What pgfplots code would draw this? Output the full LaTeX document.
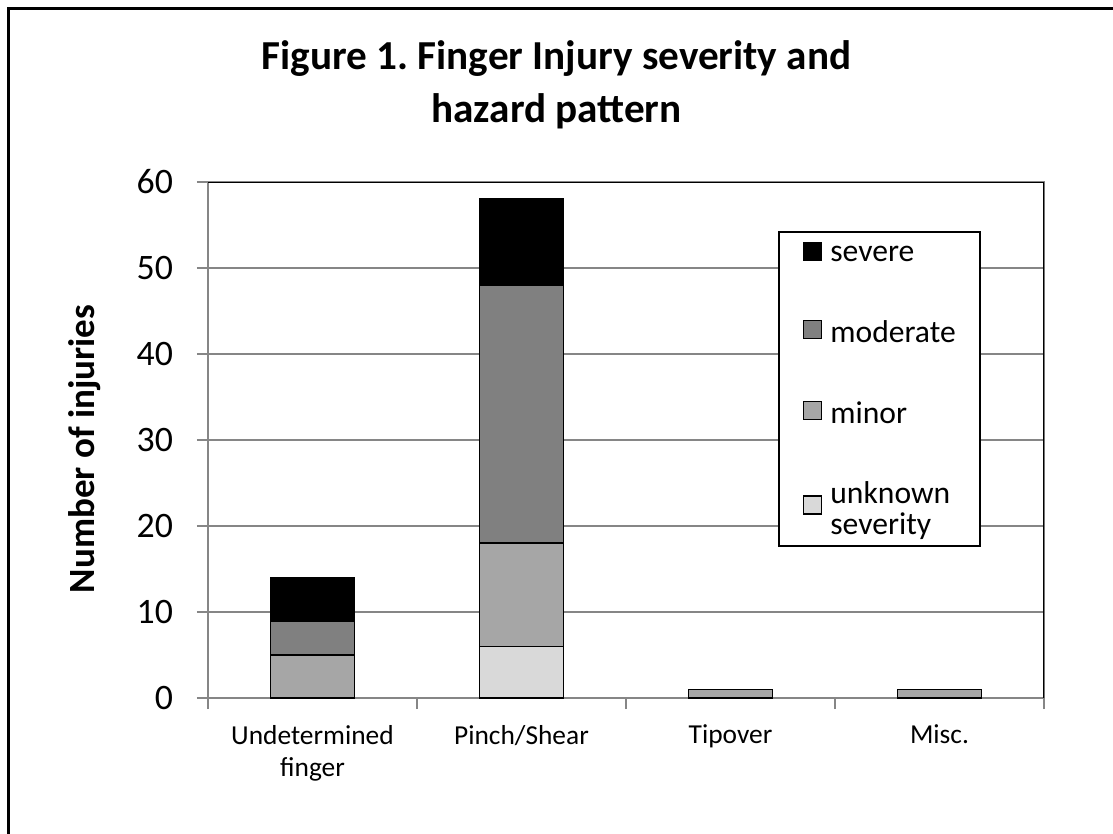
\documentclass[border=0pt]{standalone}
\usepackage{fontspec}
\setmainfont{Carlito}
\usepackage{pgfplots}
\pgfplotsset{compat=1.18}
\frenchspacing

\definecolor{sev}{HTML}{000000}
\definecolor{mod}{HTML}{808080}
\definecolor{mnr}{HTML}{A6A6A6}
\definecolor{unk}{HTML}{D9D9D9}
\definecolor{axgray}{HTML}{868686}

\begin{document}
\begin{tikzpicture}
% page = 1113 x 834 px, 1 px = 0.5pt
\useasboundingbox (0pt,0pt) rectangle (556.5pt,-417pt);
\fill[white] (0pt,0pt) rectangle (556.5pt,-417pt);
\draw[black, line width=1.5pt] (4pt,-420pt) -- (4pt,-4.5pt) -- (560pt,-4.5pt);

\begin{axis}[
    at={(104pt,-349pt)}, anchor=south west,
    scale only axis,
    width=418pt, height=258pt,
    ybar stacked,
    bar width=42pt,
    xmin=-0.5, xmax=3.5,
    ymin=0, ymax=60,
    ytick={0,10,...,60},
    xtick={-0.5,0.5,1.5,2.5,3.5},
    xticklabels={},
    extra x ticks={0,1,2,3},
    extra x tick labels={Undetermined\\finger, Pinch/Shear, Tipover, Misc.},
    extra x tick style={major tick length=0pt,
        xticklabel style={align=center, anchor=north, yshift=-10pt,
            font=\fontsize{13.7}{16}\selectfont}},
    tick align=outside,
    tick pos=left,
    major tick length=5.5pt,
    tick style={axgray, line width=1pt},
    axis line style={axgray, line width=1.2pt},
    ymajorgrids,
    grid style={axgray, line width=1pt},
    /pgf/number format/assume math mode=true,
    yticklabel style={font=\fontsize{17.9}{20}\selectfont, xshift=-8.5pt},
    reverse legend,
    legend style={at={(0.682,0.905)}, anchor=north west,
        draw=black, line width=0.8pt,
        font=\fontsize{15.8}{19}\selectfont,
        inner xsep=12pt, inner ysep=5pt,
        row sep=27.5pt, column sep=4pt,
        nodes={inner sep=0pt},
        cells={anchor=west}},
    legend cell align=left,
    legend image code/.code={\draw[#1, line width=0.7pt] (0pt,-2.5pt) rectangle (9pt,6.5pt);},
]
\addplot[fill=unk, draw=black, line width=0.9pt] coordinates {(0,0) (1,6) (2,0) (3,0)};
\addlegendentry[text depth=16pt]{\vtop{\baselineskip=15.5pt\hbox{unknown}\hbox{severity}}}
\addplot[fill=mnr, draw=black, line width=0.9pt] coordinates {(0,5) (1,12) (2,1) (3,1)};
\addlegendentry{minor}
\addplot[fill=mod, draw=black, line width=0.9pt] coordinates {(0,4) (1,30) (2,0) (3,0)};
\addlegendentry{moderate}
\addplot[fill=sev, draw=black, line width=0.9pt] coordinates {(0,5) (1,10) (2,0) (3,0)};
\addlegendentry{severe}
\draw[black, line width=1.1pt] (rel axis cs:0,1) -- (rel axis cs:1,1) -- (rel axis cs:1,0);
\end{axis}

\node[font=\bfseries\fontsize{20.6}{25}\selectfont, anchor=base, inner sep=0pt]
    at (278.25pt,-35pt) {Figure 1. Finger Injury severity and};
\node[font=\bfseries\fontsize{20.6}{25}\selectfont, anchor=base, inner sep=0pt]
    at (278.25pt,-61.5pt) {hazard pattern};
\node[font=\bfseries\fontsize{18.5}{22}\selectfont, anchor=base, rotate=90, inner sep=0pt]
    at (47pt,-224.5pt) {Number of injuries};
\end{tikzpicture}
\end{document}
